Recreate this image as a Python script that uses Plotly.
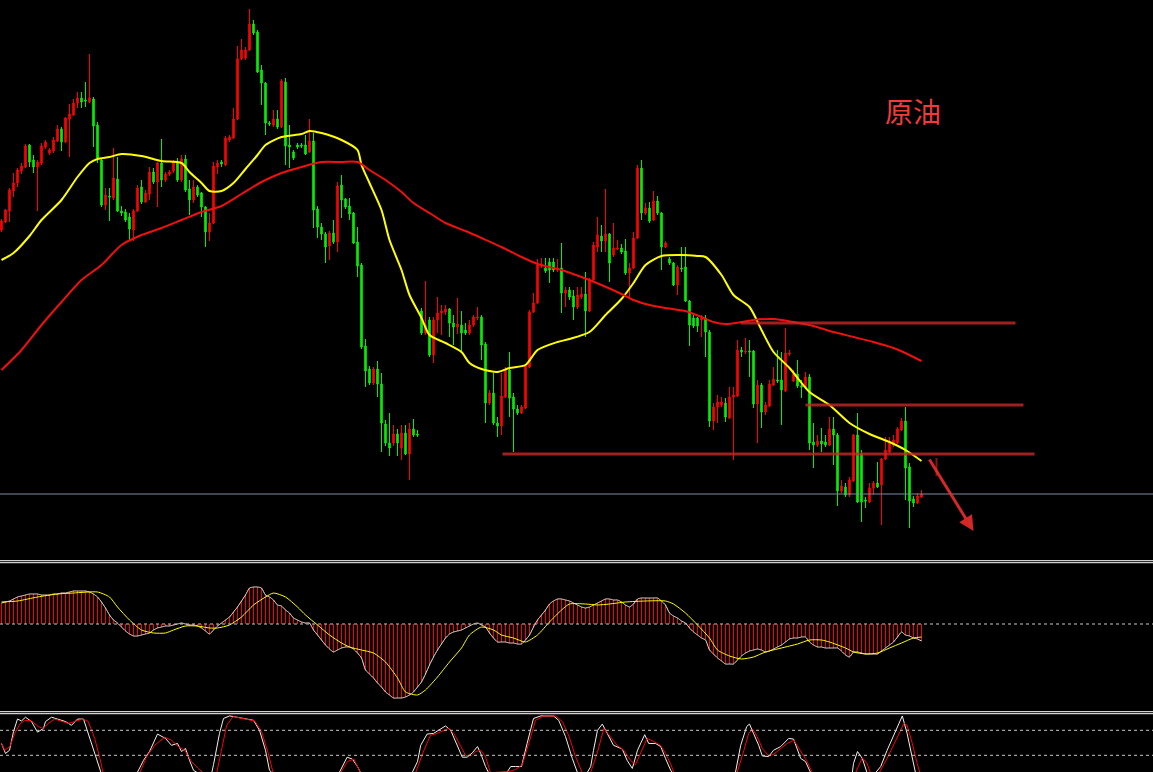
import plotly.graph_objects as go

# 原油 - 일봉 OHLC (가격 단위는 임의), 왼쪽부터 순서대로
opens = [770, 778, 789, 809, 817, 829, 833, 855, 840, 833,
         837, 853, 847, 849, 859, 871, 858, 881, 885, 897,
         902, 900, 898, 901, 875, 840, 795, 804, 802, 821,
         789, 788, 783, 770, 789, 813, 798, 806, 828, 818,
         837, 820, 826, 829, 837, 820, 841, 811, 800, 813,
         807, 793, 768, 777, 833, 838, 835, 860, 862, 881,
         941, 942, 950, 976, 968, 930, 917, 877, 875, 881,
         873, 918, 855, 848, 855, 855, 855, 848, 859, 791,
         773, 766, 754, 767, 758, 815, 801, 794, 787, 758,
         735, 654, 631, 617, 631, 616, 576, 557, 557, 566,
         552, 567, 546, 571, 566, 689, 667, 680, 645, 680,
         687, 688, 691, 677, 673, 675, 670, 667, 675, 682,
         683, 656, 597, 607, 577, 574, 603, 630, 603, 591,
         587, 592, 633, 688, 697, 734, 732, 738, 738, 730,
         732, 707, 710, 704, 693, 703, 706, 689, 720, 753,
         764, 759, 766, 745, 751, 752, 749, 727, 732, 762,
         832, 787, 792, 780, 799, 787, 753, 741, 737, 715,
         732, 733, 699, 682, 682, 680, 682, 668, 579, 593,
         595, 597, 582, 603, 604, 650, 648, 649, 649, 596,
         615, 588, 594, 615, 620, 620, 609, 646, 619, 626,
         614, 613, 623, 558, 555, 559, 558, 555, 571, 565,
         509, 513, 505, 519, 565, 546, 500, 498, 512, 517,
         515, 541, 548, 555, 557, 570, 579, 533, 501, 497,
         503]
highs = [781, 791, 812, 827, 832, 837, 856, 856, 845, 840,
         857, 860, 852, 863, 875, 873, 883, 896, 901, 908,
         908, 918, 946, 903, 878, 842, 812, 812, 852, 843,
         794, 791, 787, 791, 815, 820, 810, 833, 832, 838,
         861, 828, 830, 840, 842, 845, 845, 820, 820, 815,
         808, 794, 787, 838, 840, 840, 864, 865, 892, 954,
         961, 953, 991, 980, 970, 935, 918, 879, 890, 890,
         921, 922, 875, 850, 857, 857, 865, 881, 867, 794,
         777, 768, 769, 780, 818, 825, 802, 802, 788, 773,
         737, 661, 634, 633, 639, 627, 580, 587, 575, 571,
         575, 575, 577, 581, 570, 692, 719, 683, 683, 703,
         695, 695, 692, 685, 702, 689, 677, 680, 685, 693,
         685, 658, 610, 627, 583, 627, 633, 648, 607, 595,
         595, 636, 690, 707, 741, 742, 742, 742, 742, 741,
         757, 713, 713, 710, 713, 713, 728, 722, 758, 783,
         775, 811, 767, 777, 760, 756, 761, 737, 768, 835,
         840, 797, 798, 809, 804, 788, 759, 743, 738, 735,
         753, 753, 700, 685, 683, 685, 685, 670, 597, 605,
         603, 602, 613, 613, 660, 653, 662, 660, 650, 620,
         617, 598, 620, 633, 650, 648, 672, 650, 630, 640,
         620, 628, 626, 577, 565, 572, 565, 583, 583, 567,
         520, 517, 523, 566, 587, 550, 503, 517, 519, 538,
         542, 563, 563, 565, 573, 582, 593, 537, 504, 507,
         510]
lows = [768, 777, 778, 803, 813, 826, 832, 833, 827, 789,
        835, 851, 845, 847, 858, 849, 857, 843, 884, 892,
        892, 893, 897, 853, 837, 793, 790, 779, 800, 788,
        784, 778, 759, 759, 788, 796, 797, 800, 816, 793,
        813, 818, 824, 827, 818, 818, 808, 785, 797, 803,
        783, 753, 759, 776, 826, 833, 834, 858, 861, 880,
        940, 940, 949, 965, 927, 895, 865, 874, 873, 871,
        872, 835, 832, 840, 851, 852, 845, 847, 772, 762,
        760, 737, 740, 756, 748, 782, 791, 780, 756, 723,
        651, 613, 615, 615, 603, 548, 554, 544, 554, 544,
        540, 545, 520, 563, 563, 665, 665, 643, 637, 667,
        665, 685, 663, 655, 666, 647, 665, 665, 673, 680,
        640, 577, 595, 575, 563, 565, 602, 583, 548, 585,
        586, 591, 632, 687, 696, 732, 727, 717, 728, 728,
        687, 693, 700, 680, 691, 701, 663, 688, 719, 748,
        748, 748, 718, 743, 750, 746, 725, 702, 731, 761,
        780, 785, 777, 779, 785, 730, 752, 735, 714, 705,
        728, 698, 654, 672, 668, 663, 643, 573, 570, 577,
        593, 578, 581, 540, 603, 643, 646, 623, 592, 557,
        572, 585, 593, 614, 617, 575, 608, 644, 618, 612,
        602, 612, 550, 532, 553, 548, 553, 554, 535, 494,
        507, 503, 503, 518, 497, 478, 492, 497, 505, 512,
        475, 540, 547, 553, 556, 569, 500, 472, 493, 496,
        502]
closes = [779, 790, 810, 817, 830, 834, 854, 838, 833, 838,
          854, 858, 850, 860, 871, 858, 882, 886, 897, 902,
          898, 899, 902, 874, 842, 795, 805, 803, 822, 789,
          787, 780, 771, 789, 812, 798, 807, 828, 818, 837,
          820, 826, 828, 838, 820, 841, 810, 800, 813, 805,
          793, 768, 777, 834, 837, 836, 862, 863, 881, 941,
          950, 950, 976, 967, 928, 917, 877, 876, 881, 873,
          919, 854, 853, 842, 853, 854, 846, 859, 790, 773,
          766, 753, 767, 758, 814, 800, 793, 786, 757, 734,
          653, 629, 617, 631, 616, 577, 557, 552, 566, 557,
          567, 546, 571, 565, 565, 667, 675, 645, 680, 687,
          689, 691, 677, 673, 676, 667, 667, 675, 683, 683,
          655, 597, 607, 577, 574, 604, 630, 602, 591, 587,
          593, 634, 688, 697, 735, 735, 729, 730, 730, 732,
          707, 710, 703, 693, 705, 706, 689, 720, 755, 765,
          759, 766, 737, 752, 752, 748, 727, 732, 762, 832,
          787, 792, 779, 799, 787, 753, 757, 737, 715, 733,
          731, 699, 675, 674, 674, 682, 668, 579, 593, 598,
          598, 583, 603, 605, 650, 648, 649, 648, 596, 615,
          588, 595, 616, 621, 619, 610, 647, 647, 626, 614,
          613, 623, 557, 555, 559, 556, 555, 571, 565, 509,
          514, 505, 520, 565, 498, 498, 499, 512, 517, 513,
          541, 550, 557, 560, 571, 579, 532, 499, 497, 504,
          506]

# 이동평균선 (봉 번호, 값)
ma_fast_pts = [(0, 740), (3, 747), (7, 764), (10, 780), (15, 800), (19, 823), (22, 837), (24, 841),
               (27, 843), (30, 846), (35, 844), (40, 839), (45, 837), (47, 828), (50, 817), (52, 809),
               (55, 809), (58, 817), (61, 831), (64, 845), (66, 855), (70, 863), (75, 866), (77, 869),
               (80, 867), (85, 860), (89, 850), (90, 835), (92, 817), (95, 790), (97, 760), (100, 730),
               (102, 705), (105, 682), (107, 665), (111, 657), (115, 648), (117, 637), (120, 631),
               (124, 628), (127, 632), (131, 635), (134, 650), (139, 658), (142, 661), (147, 668),
               (151, 685), (155, 701), (158, 717), (161, 735), (165, 744), (170, 745), (174, 744),
               (176, 743), (180, 725), (183, 705), (187, 693), (190, 670), (193, 648), (197, 632),
               (202, 608), (207, 595), (212, 577), (217, 566), (222, 558), (226, 550), (230, 539)]
ma_slow_pts = [(0, 630), (5, 650), (10, 675), (15, 698), (20, 720), (25, 735), (30, 755), (35, 765),
               (40, 772), (45, 780), (50, 788), (55, 794), (60, 806), (65, 818), (70, 827), (75, 833),
               (80, 838), (85, 838), (89, 838), (92, 830), (96, 820), (100, 808), (103, 797),
               (107, 787), (111, 777), (116, 769), (120, 762), (125, 753), (130, 743), (134, 736),
               (140, 730), (145, 723), (150, 715), (155, 706), (158, 700), (162, 695), (166, 692),
               (171, 689), (175, 683), (178, 678), (181, 676), (185, 678), (188, 680), (193, 681),
               (198, 678), (203, 674), (208, 668), (213, 663), (218, 658), (223, 652), (227, 645),
               (230, 639)]

# MACD (봉마다), 시그널선
macd = [21, 22, 23, 25, 27, 28, 29, 30, 30, 30,
        29, 29, 29, 30, 30, 31, 31, 32, 33, 33,
        33, 33, 32, 30, 27, 22, 16, 9, 4, 1,
        -3, -7, -10, -12, -12, -11, -10, -9, -6, -4,
        -3, -2, -2, -1, 0, 1, 0, -1, -1, -2,
        -4, -7, -10, -6, -2, 1, 4, 7, 12, 17,
        23, 29, 36, 37, 37, 36, 29, 27, 24, 19,
        18, 14, 11, 6, 4, 2, 1, 1, -6, -11,
        -16, -21, -25, -28, -26, -24, -23, -23, -25, -29,
        -34, -46, -50, -54, -59, -63, -68, -71, -74, -74,
        -74, -73, -71, -68, -63, -58, -50, -41, -33, -26,
        -20, -14, -10, -8, -7, -6, -4, -2, 0, 1,
        -1, -3, -9, -14, -18, -18, -18, -19, -19, -20,
        -20, -16, -11, -3, 4, 9, 14, 20, 23, 25,
        25, 24, 23, 21, 19, 17, 16, 17, 19, 21,
        23, 25, 25, 24, 24, 22, 19, 17, 20, 25,
        26, 26, 26, 26, 26, 23, 19, 11, 8, 6,
        3, 1, -4, -8, -11, -14, -16, -26, -30, -34,
        -37, -40, -40, -40, -36, -32, -29, -27, -26, -25,
        -26, -28, -27, -25, -23, -21, -18, -15, -14, -14,
        -13, -13, -18, -21, -23, -23, -24, -24, -24, -24,
        -27, -31, -33, -28, -28, -29, -30, -30, -30, -30,
        -27, -24, -21, -18, -13, -8, -11, -12, -14, -15,
        -17]
signal_pts = [(0, 22), (4, 23), (9, 27), (14, 30), (18, 31), (24, 32), (27, 27), (29, 17), (32, 4),
              (35, -6), (38, -9), (41, -9), (43, -6), (46, -2), (49, -2), (52, -4), (54, -4), (57, -1),
              (60, 7), (63, 19), (66, 27), (68, 31), (71, 27), (74, 17), (76, 9), (79, -1), (82, -11),
              (85, -19), (87, -23), (90, -26), (93, -29), (96, -38), (99, -54), (101, -68), (104, -71),
              (106, -66), (109, -53), (112, -38), (115, -24), (117, -11), (120, -3), (123, -6),
              (125, -11), (128, -14), (131, -18), (134, -11), (137, 2), (140, 14), (142, 20), (146, 20),
              (149, 19), (152, 20), (156, 22), (161, 23), (166, 23), (168, 20), (171, 11), (174, -1),
              (177, -14), (179, -26), (182, -32), (185, -35), (188, -33), (191, -28), (195, -24),
              (199, -20), (202, -16), (205, -16), (207, -18), (211, -24), (213, -28), (216, -30),
              (219, -29), (222, -24), (225, -19), (228, -14), (230, -13)]

# KD (스토캐스틱)
stoch_k_pts = [(0, 49), (1, 33), (2, 38), (3, 68), (4, 88), (5, 85), (6, 91), (7.5, 84), (9, 67),
               (10.5, 73), (11, 84), (12.5, 91), (14, 88), (16, 84), (17.5, 78), (19, 88), (20.5, 88),
               (21, 78), (22.5, 49), (24, 17), (25, 0), (33, 0), (34, 3), (35.5, 22), (37, 36),
               (39, 64), (40, 60), (41, 57), (42.5, 46), (44, 49), (45, 36), (46, 41), (47, 22),
               (48, 6), (49, 2), (52.5, 0), (53, 15), (54.5, 65), (55.5, 89), (57, 93), (58, 92),
               (61, 89), (63, 86), (64.5, 70), (66, 38), (67, 6), (68, 0), (84, 0), (84.5, 3),
               (86.4, 27), (87.7, 24), (89, 12), (89.8, 2), (102.5, 0), (104, 20), (104.8, 46),
               (106.4, 64), (108, 65), (109.8, 73), (111, 77), (112.3, 70), (114, 46), (115.2, 27),
               (116.4, 27), (117.7, 34), (119, 44), (119.8, 33), (121, 12), (121.8, 2), (126.3, 2),
               (127.3, 12), (128.5, 12), (130, 12), (131.4, 49), (133, 89), (134.8, 93), (138, 93),
               (139.3, 86), (141, 60), (142.7, 25), (144, 2), (146.4, 2), (147.3, 12), (148, 38),
               (149, 70), (150.2, 80), (151.4, 65), (153, 46), (155.2, 40), (156.4, 22), (157.7, 9),
               (159, 38), (160.8, 63), (161.8, 49), (163.5, 49), (164.8, 44), (166, 25), (167.3, 6),
               (168, 0), (183, 0), (183.5, 3), (184.8, 46), (186.3, 76), (187, 80), (188, 65),
               (189.3, 46), (190.2, 29), (191.8, 28), (193, 38), (194.8, 44), (196.8, 57), (198, 56),
               (199.8, 25), (201, 20), (202.3, 2), (212.7, 2), (213, 17), (214, 36), (215.2, 25),
               (216.4, 2), (218.5, 2), (219.8, 12), (221.4, 38), (223.5, 70), (225.2, 93), (226.4, 65),
               (227.7, 28), (228.5, 2), (230, 0)]
stoch_d_pts = [(0, 49), (0.8, 38), (2.1, 44), (3.3, 65), (4.6, 80), (5.8, 86), (7.5, 85), (9.2, 76),
               (10.4, 73), (11.7, 81), (13.3, 88), (15, 85), (16.7, 81), (18.8, 85), (20.4, 88),
               (21.7, 84), (23.3, 57), (24.6, 25), (25.4, 2), (34.6, 2), (36.3, 28), (38.3, 46),
               (40.8, 59), (42.5, 54), (44.2, 44), (45.8, 38), (47.5, 20), (49.2, 9), (50.4, 2),
               (53.8, 2), (55, 38), (56.3, 78), (57.9, 92), (60, 89), (63.3, 85), (65, 68), (66.7, 33),
               (67.9, 2), (84.75, 2), (86.5, 20), (88.1, 24), (89.75, 2), (103.5, 2), (105.6, 38),
               (107.25, 62), (108.9, 65), (110.6, 70), (111.8, 73), (113.1, 65), (114.75, 46),
               (116, 30), (117.25, 29), (118.5, 36), (119.75, 38), (121, 28), (122.25, 2), (127.7, 5),
               (128.9, 9), (130.2, 15), (131.8, 49), (133.5, 86), (135.6, 93), (138.5, 93),
               (140.2, 84), (141.9, 60), (143.5, 28), (145.2, 2), (147.25, 2), (148.9, 33),
               (150.6, 73), (152.25, 60), (153.9, 46), (155.6, 38), (157.25, 22), (158.5, 15),
               (159.8, 35), (161.4, 57), (163.1, 52), (164.75, 46), (166, 33), (167.25, 17),
               (168.1, 2), (183.9, 2), (185.6, 38), (186.8, 65), (187.8, 72), (188.9, 60), (190.2, 41),
               (191.8, 29), (193.1, 32), (194.75, 40), (196.4, 49), (198.1, 54), (199.75, 38),
               (201.4, 20), (202.7, 2), (213.5, 2), (215.2, 26), (216.4, 17), (217.25, 2), (219.4, 2),
               (221.4, 25), (223.9, 60), (225.6, 81), (226.4, 78), (227.7, 49), (228.9, 17),
               (229.6, 2), (230, 0)]

# 손으로 그은 지지/저항선: 가격, 시작 봉, 끝 봉
level_price = [677, 595, 546]
level_from = [184.75, 201, 125.25]
level_to = [253.5, 255.5, 258.25]

# 화살표 (시작 봉, 시작가, 끝 봉, 끝가)
arrow = (231.75, 542, 243, 469)

title_text = '原油'

W, H = 1153, 772
bars = list(range(len(closes)))


def split(pts):
    return [p[0] for p in pts], [p[1] for p in pts]


def prow(y):
    # 화면 픽셀 행 -> paper 좌표
    return 1 - y / H


fig = go.Figure()

# 메인 차트
fig.add_trace(go.Candlestick(
    x=bars, open=opens, high=highs, low=lows, close=closes,
    whiskerwidth=0,
    increasing=dict(line=dict(color='#ff0000', width=1), fillcolor='#ff0000'),
    decreasing=dict(line=dict(color='#00f000', width=1), fillcolor='#00f000'),
    xaxis='x', yaxis='y'))

mx, my = split(ma_fast_pts)
fig.add_trace(go.Scatter(x=mx, y=my, mode='lines',
                         line=dict(color='#ffff00', width=2, shape='spline', smoothing=0.7),
                         xaxis='x', yaxis='y'))
mx, my = split(ma_slow_pts)
fig.add_trace(go.Scatter(x=mx, y=my, mode='lines',
                         line=dict(color='#f01010', width=2, shape='spline', smoothing=0.7),
                         xaxis='x', yaxis='y'))

# MACD
fig.add_trace(go.Bar(x=bars, y=macd, width=0.25, marker=dict(color='#ff0000', line=dict(width=0)),
                     xaxis='x2', yaxis='y2'))
fig.add_trace(go.Scatter(x=bars, y=macd, mode='lines',
                         line=dict(color='#f2e8dc', width=1, shape='spline', smoothing=0.5),
                         xaxis='x2', yaxis='y2'))
sx, sy = split(signal_pts)
fig.add_trace(go.Scatter(x=sx, y=sy, mode='lines',
                         line=dict(color='#ffff00', width=1, shape='spline', smoothing=0.6),
                         xaxis='x2', yaxis='y2'))

# KD
kx, ky = split(stoch_k_pts)
fig.add_trace(go.Scatter(x=kx, y=ky, mode='lines', line=dict(color='#f4f0ea', width=1),
                         xaxis='x3', yaxis='y3'))
dx, dy = split(stoch_d_pts)
fig.add_trace(go.Scatter(x=dx, y=dy, mode='lines', line=dict(color='#ff0000', width=1),
                         xaxis='x3', yaxis='y3'))

# 봉 하나 = 4px, 1px 막대가 픽셀에 딱 맞도록 살짝 이동
x_range = [-0.375, -0.375 + W / 4]
hidden = dict(visible=False, showgrid=False, zeroline=False, fixedrange=True)

shapes = []
for p, a, b in zip(level_price, level_from, level_to):
    shapes.append(dict(type='line', xref='x', yref='y', x0=a, x1=b, y0=p, y1=p,
                       line=dict(color='rgba(200,40,40,0.8)', width=3)))
# 현재가 라인
shapes.append(dict(type='line', xref='paper', yref='y', x0=0, x1=1, y0=closes[-1], y1=closes[-1],
                   line=dict(color='#7d8ca3', width=1)))
# 화살표 시작점 표시
shapes.append(dict(type='line', xref='x', yref='y', x0=arrow[0] + 2, x1=arrow[0] + 2,
                   y0=arrow[1], y1=arrow[1] - 18, line=dict(color='rgba(190,30,30,0.7)', width=2)))
# 패널 구분선
for r in [560.7, 562.7, 711.7, 713.7]:
    shapes.append(dict(type='line', xref='paper', yref='paper', x0=0, x1=1, y0=prow(r), y1=prow(r),
                       line=dict(color='#ffffff', width=1)))
shapes.append(dict(type='line', xref='paper', yref='y2', x0=0, x1=1, y0=0, y1=0,
                   line=dict(color='#c8c8c8', width=1, dash='3px,3px')))
for lv in [70, 30]:
    shapes.append(dict(type='line', xref='paper', yref='y3', x0=0, x1=1, y0=lv, y1=lv,
                       line=dict(color='#c8c8c8', width=1, dash='3px,3px')))

fig.update_layout(
    width=W, height=H,
    margin=dict(l=0, r=0, t=0, b=0),
    paper_bgcolor='#000000', plot_bgcolor='#000000',
    showlegend=False, hovermode=False,
    boxgap=0.45, bargap=0,
    xaxis=dict(hidden, range=x_range, anchor='y', rangeslider=dict(visible=False)),
    yaxis=dict(hidden, range=[442, 1000], domain=[prow(558), 1]),
    xaxis2=dict(hidden, range=x_range, anchor='y2'),
    yaxis2=dict(hidden, range=[-85, 60], domain=[prow(709), prow(564)]),
    xaxis3=dict(hidden, range=x_range, anchor='y3'),
    yaxis3=dict(hidden, range=[3.3, 96.1], domain=[0, prow(714)]),
    shapes=shapes,
    annotations=[
        dict(x=arrow[2], y=arrow[3], ax=arrow[0], ay=arrow[1], xref='x', yref='y',
             axref='x', ayref='y', text='', showarrow=True, arrowhead=2, arrowsize=1,
             arrowwidth=3, arrowcolor='rgba(235,45,45,0.9)'),
        dict(x=227.75, y=889, xref='x', yref='y', text=title_text, showarrow=False,
             font=dict(family='Noto Sans CJK SC', size=28, color='#f23a3a')),
    ],
)

fig.write_html("out.html", config={'displayModeBar': False},
               post_script="document.body.style.margin='0';")
